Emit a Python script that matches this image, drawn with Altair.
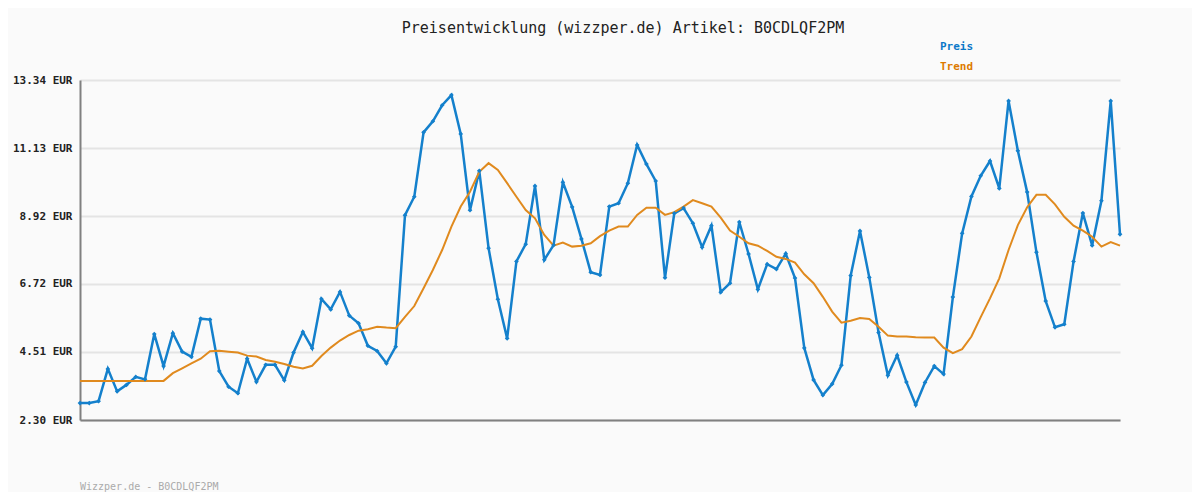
import altair as alt
import pandas as pd

preis = [2.85, 2.85, 2.91, 3.96, 3.23, 3.44, 3.70, 3.62, 5.09, 4.05,
         5.12, 4.52, 4.35, 5.59, 5.56, 3.89, 3.38, 3.17, 4.29, 3.54,
         4.09, 4.09, 3.59, 4.49, 5.16, 4.63, 6.23, 5.89, 6.46, 5.69,
         5.44, 4.71, 4.54, 4.14, 4.68, 8.95, 9.55, 11.64, 12.00, 12.52,
         12.85, 11.59, 9.11, 10.39, 7.88, 6.22, 4.95, 7.45, 8.01, 9.90,
         7.50, 7.98, 10.02, 9.22, 8.18, 7.10, 7.01, 9.23, 9.34, 9.99,
         11.23, 10.61, 10.06, 6.92, 9.01, 9.18, 8.69, 7.91, 8.61, 6.45,
         6.74, 8.73, 7.69, 6.54, 7.36, 7.20, 7.70, 6.91, 4.64, 3.60,
         3.11, 3.47, 4.08, 6.99, 8.44, 6.93, 5.14, 3.75, 4.40, 3.53,
         2.79, 3.52, 4.05, 3.79, 6.29, 8.36, 9.56, 10.23, 10.71, 9.82,
         12.66, 11.04, 9.70, 7.75, 6.16, 5.31, 5.41, 7.45, 9.02, 7.97,
         9.42, 12.66, 8.33]

trend = [3.57, 3.57, 3.57, 3.57, 3.57, 3.57, 3.57, 3.57, 3.57, 3.57,
         3.82, 3.98, 4.14, 4.29, 4.53, 4.55, 4.52, 4.49, 4.39, 4.36,
         4.25, 4.19, 4.12, 4.03, 3.97, 4.06, 4.38, 4.65, 4.88, 5.06,
         5.20, 5.25, 5.33, 5.30, 5.28, 5.65, 6.00, 6.58, 7.17, 7.82,
         8.58, 9.23, 9.71, 10.36, 10.64, 10.42, 9.99, 9.55, 9.12, 8.85,
         8.31, 7.96, 8.06, 7.93, 7.96, 8.04, 8.27, 8.45, 8.58, 8.58,
         8.96, 9.19, 9.19, 8.96, 9.05, 9.23, 9.44, 9.34, 9.23, 8.87,
         8.45, 8.25, 8.04, 7.96, 7.79, 7.60, 7.53, 7.41, 7.03, 6.74,
         6.30, 5.82, 5.46, 5.52, 5.61, 5.58, 5.33, 5.04, 5.01, 5.01,
         4.99, 4.98, 4.98, 4.65, 4.47, 4.60, 5.01, 5.64, 6.25, 6.90,
         7.82, 8.63, 9.21, 9.61, 9.61, 9.30, 8.90, 8.61, 8.45, 8.25,
         7.93, 8.08, 7.96]

y_ticks = [2.30, 4.51, 6.72, 8.92, 11.13, 13.34]
title_text = "Preisentwicklung (wizzper.de) Artikel: B0CDLQF2PM"
footer_text = "Wizzper.de - B0CDLQF2PM"
series = ["Preis", "Trend"]
colors = ["#1480cc", "#e08a1e"]
legend_colors = ["#0a78c8", "#dd7a00"]

n = len(preis)
df = pd.DataFrame({
    "i": list(range(n)) * 2,
    "wert": preis + trend,
    "serie": ["Preis"] * n + ["Trend"] * n,
})

FONT = "DejaVu Sans Mono"

x_enc = alt.X("i:Q", scale=alt.Scale(domain=[0, n - 1], nice=False, zero=False),
              axis=alt.Axis(title=None, labels=False, ticks=False, grid=False,
                            domainColor="#808080", domainWidth=2))
y_enc = alt.Y("wert:Q", scale=alt.Scale(domain=[2.30, 13.34], nice=False, zero=False),
              axis=alt.Axis(title=None, values=y_ticks,
                            labelExpr="format(datum.value, '.2f') + ' EUR'",
                            ticks=False, labelPadding=8, labelFont=FONT,
                            labelFontSize=11, labelFontWeight="bold", labelColor="#222222",
                            grid=True, gridColor="#e4e4e4", gridWidth=2,
                            domainColor="#808080", domainWidth=2))
color_enc = alt.Color("serie:N", scale=alt.Scale(domain=series, range=colors), legend=None)

base = alt.Chart(df)

preis_line = base.transform_filter(alt.datum.serie == "Preis").mark_line(
    strokeWidth=2.5).encode(x=x_enc, y=y_enc, color=color_enc)
preis_pts = base.transform_filter(alt.datum.serie == "Preis").mark_point(
    shape="diamond", filled=True, size=22, opacity=1).encode(x=x_enc, y=y_enc, color=color_enc)
trend_line = base.transform_filter(alt.datum.serie == "Trend").mark_line(
    strokeWidth=2).encode(x=x_enc, y=y_enc, color=color_enc)

title_df = pd.DataFrame({"t": [title_text]})
title = alt.Chart(title_df).mark_text(font=FONT, fontSize=15, color="#222222",
                                      align="center", baseline="middle").encode(
    text="t:N", x=alt.value(543), y=alt.value(-52))

leg_preis = alt.Chart(pd.DataFrame({"t": [series[0]]})).mark_text(
    font=FONT, fontSize=11, fontWeight="bold", align="left", baseline="middle").encode(
    text="t:N", x=alt.value(860), y=alt.value(-33), color=alt.value(legend_colors[0]))
leg_trend = alt.Chart(pd.DataFrame({"t": [series[1]]})).mark_text(
    font=FONT, fontSize=11, fontWeight="bold", align="left", baseline="middle").encode(
    text="t:N", x=alt.value(860), y=alt.value(-13), color=alt.value(legend_colors[1]))

foot_df = pd.DataFrame({"t": [footer_text]})
footer = alt.Chart(foot_df).mark_text(font=FONT, fontSize=10, color="#aaaaaa",
                                      align="left", baseline="middle").encode(
    text="t:N", x=alt.value(0), y=alt.value(407))

chart = alt.layer(preis_line, trend_line, preis_pts, title, leg_preis, leg_trend, footer).properties(
    width=1040, height=340,
    autosize=alt.AutoSizeParams(type="none"),
    padding={"left": 72, "top": 72, "right": 72, "bottom": 72},
    background="#fafafa",
).configure_view(stroke=None)

chart.save("out.html", embed_options={"renderer": "svg", "actions": False})
